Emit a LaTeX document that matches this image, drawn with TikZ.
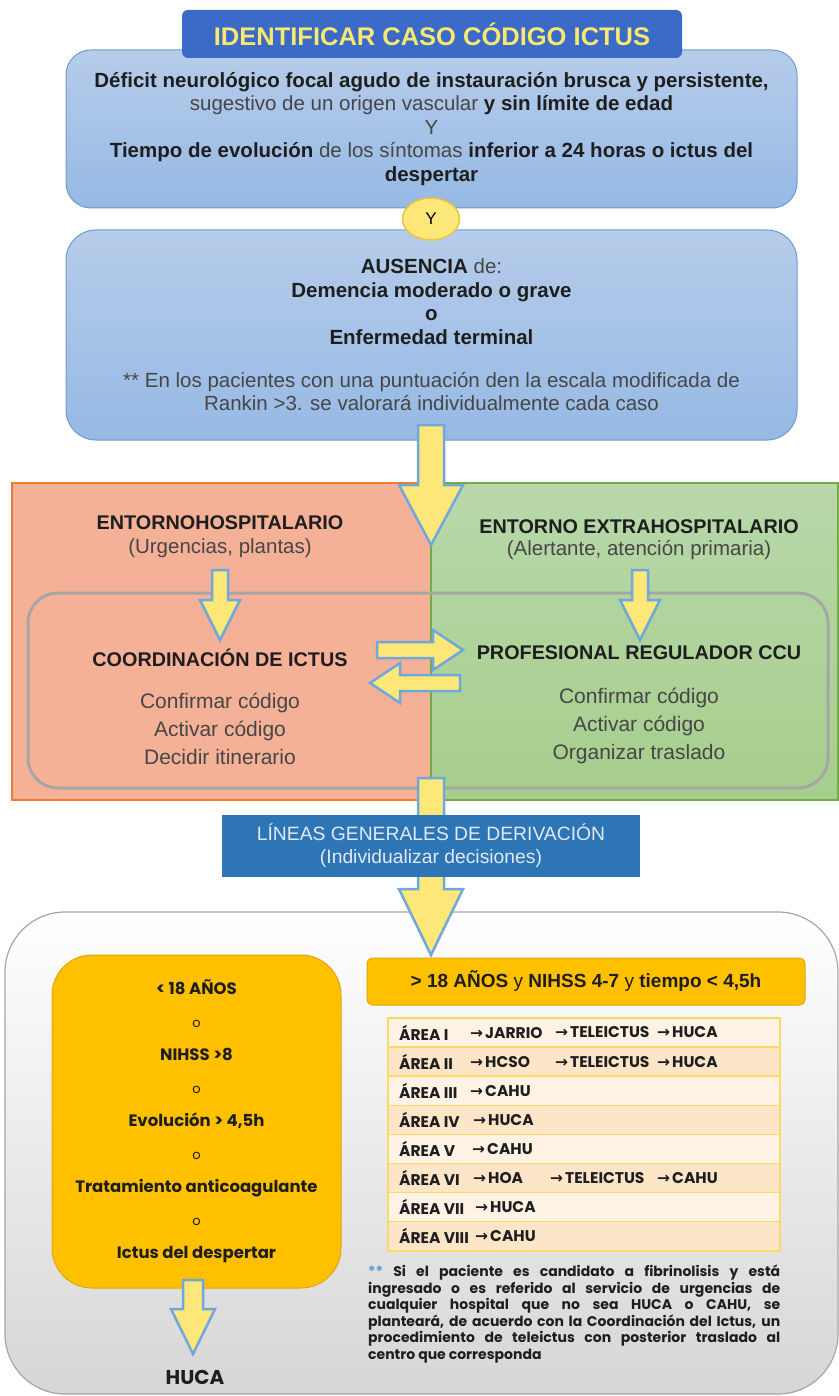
\documentclass[tikz,border=0pt]{standalone}
\usepackage{fontspec}
\setmainfont{Liberation Sans}
\newfontfamily\popfont{Poppins}
\newfontfamily\symfont{DejaVu Sans}
\usetikzlibrary{calc,shapes.geometric}

\definecolor{azulclaro}{RGB}{182,204,234}
\definecolor{azulmedio}{RGB}{150,185,228}
\definecolor{azulborde}{RGB}{112,152,208}
\definecolor{azultitulo}{RGB}{59,106,200}
\definecolor{amarillotit}{RGB}{247,232,110}
\definecolor{amarillo}{RGB}{252,231,120}
\definecolor{amarilloborde}{RGB}{232,196,64}
\definecolor{flechaborde}{RGB}{111,168,220}
\definecolor{salmon}{RGB}{244,177,151}
\definecolor{naranja}{RGB}{237,125,49}
\definecolor{verdeclaro}{RGB}{184,216,170}
\definecolor{verde}{RGB}{166,206,140}
\definecolor{verdeborde}{RGB}{112,173,71}
\definecolor{gris}{RGB}{166,166,166}
\definecolor{grisfondo}{RGB}{214,214,214}
\definecolor{azuloscuro}{RGB}{46,117,182}
\definecolor{textoclaro}{RGB}{226,233,246}
\definecolor{oro}{RGB}{255,192,0}
\definecolor{oroborde}{RGB}{226,168,0}
\definecolor{filaclara}{RGB}{255,243,230}
\definecolor{filaoscura}{RGB}{253,229,200}
\definecolor{filaborde}{RGB}{255,217,102}
\definecolor{texto}{RGB}{30,30,30}
\definecolor{textogris}{RGB}{70,70,70}
\definecolor{asterisco}{RGB}{91,155,213}

% block arrow: start, end, shaft half width, head half width, head length
\newcommand{\flechabloque}[5]{%
  \coordinate (fb-n) at ($(#2)!#5!(#1)$);
  \draw[barrow] ($(#1)!#3!90:(#2)$) -- ($(fb-n)!#3!90:(#2)$) -- ($(fb-n)!#4!90:(#2)$)
    -- (#2) -- ($(fb-n)!#4!-90:(#2)$) -- ($(fb-n)!#3!-90:(#2)$) -- ($(#1)!#3!-90:(#2)$) -- cycle;
}
\newcommand{\flecha}{{\symfont\bfseries →}\hspace{2pt}}
\newcommand{\oo}{{\mdseries\fontsize{13}{33}\selectfont o}}

\tikzset{
  caja/.style={draw=azulborde, line width=1pt, rounded corners=25pt, top color=azulclaro,
    bottom color=azulmedio, minimum width=731pt, minimum height=158pt, align=center,
    text=texto, font=\fontsize{20.5}{23.5}\selectfont},
  titulo/.style={fill=azultitulo, rounded corners=6pt, minimum width=500pt, minimum height=48pt,
    text=amarillotit, font=\fontsize{25.5}{28}\selectfont\bfseries},
  conector/.style={ellipse, fill=amarillo, draw=amarilloborde, line width=1.5pt,
    minimum width=57pt, minimum height=42pt, inner sep=0pt, font=\fontsize{17}{19}\selectfont},
  barrow/.style={fill=amarillo, draw=flechaborde, line width=2.5pt, line join=miter},
  panel/.style={line width=1.2pt, minimum height=317pt},
  marco/.style={draw=gris, line width=3pt, rounded corners=30pt, minimum width=800pt, minimum height=195pt},
  tit/.style={align=center, text=texto, font=\fontsize{19.8}{24}\selectfont\bfseries},
  item/.style={align=center, text=textogris, font=\fontsize{21}{28}\selectfont},
  orobox/.style={fill=oro, draw=oroborde, line width=1pt, text=texto},
  rowbox/.style={draw=filaborde, line width=1.5pt, minimum width=392pt, minimum height=29.1pt},
  celltxt/.style={anchor=west, inner sep=0pt, text=texto, font=\popfont\fontsize{15.5}{17}\selectfont\bfseries}
}

\begin{document}
\begin{tikzpicture}[x=1pt, y=-1pt]
\useasboundingbox (0,0) rectangle (838,1396);

% criteria
\node[caja] (criterios) at (431.5,129) {%
  {\bfseries Déficit neurológico focal agudo de instauración brusca y persistente,}\\
  {\color{textogris}sugestivo de un origen vascular} {\bfseries y sin límite de edad}\\
  {\color{textogris}Y}\\
  {\bfseries Tiempo de evolución} {\color{textogris}de los síntomas} {\bfseries inferior a 24 horas o ictus del}\\
  {\bfseries despertar}};
\node[titulo] (titulo) at (432,34) {IDENTIFICAR CASO CÓDIGO ICTUS};

\node[caja, minimum height=210pt, rounded corners=30pt] (ausencia) at (431.5,335) {%
  {\bfseries AUSENCIA} {\color{textogris}de:}\\
  {\bfseries Demencia moderado o grave}\\
  {\bfseries o}\\
  {\bfseries Enfermedad terminal}\\[19.5pt]
  {\color{textogris}** En los pacientes con una puntuación den la escala modificada de}\\
  {\color{textogris}Rankin >3. se valorará individualmente cada caso}};
\node[conector] (y) at (431,219) {Y};

% two settings
\node[panel, fill=salmon, draw=naranja, minimum width=419pt] (hosp) at (221.5,641.5) {};
\node[panel, top color=verdeclaro, bottom color=verde, draw=verdeborde, minimum width=407pt] (extra) at (634.5,641.5) {};
\node[marco] (coord) at (428,690.5) {};

\coordinate (a1) at (431,425);
\coordinate (a1f) at (431,545);
\flechabloque{a1}{a1f}{13pt}{32pt}{60pt}

\node[tit] (hosptit) at (220,537) {ENTORNOHOSPITALARIO\\{\mdseries\fontsize{20.5}{24}\selectfont\color{textogris}(Urgencias, plantas)}};
\node[tit, font=\fontsize{19.8}{22}\selectfont\bfseries] (extratit) at (639,540) {ENTORNO EXTRAHOSPITALARIO\\{\mdseries\fontsize{20.5}{22}\selectfont\color{textogris}(Alertante, atención primaria)}};
\node[tit] (ictus) at (220,658) {COORDINACIÓN DE ICTUS};
\node[tit] (ccu) at (639,653) {PROFESIONAL REGULADOR CCU};
\node[item] (ictusitems) at (220,729) {Confirmar código\\Activar código\\Decidir itinerario};
\node[item] (ccuitems) at (639,726) {Confirmar código\\Activar código\\Organizar traslado};

\coordinate (h1) at (220,570);
\coordinate (h1f) at (220,640);
\flechabloque{h1}{h1f}{8pt}{20pt}{40pt}
\coordinate (e1) at (640,570);
\coordinate (e1f) at (640,640);
\flechabloque{e1}{e1f}{8pt}{20pt}{40pt}
\coordinate (d1) at (377,650);
\coordinate (d1f) at (463,650);
\flechabloque{d1}{d1f}{8pt}{20pt}{30pt}
\coordinate (i1) at (460,683);
\coordinate (i1f) at (370,683);
\flechabloque{i1}{i1f}{8pt}{20pt}{30pt}

% derivation
\node[draw=gris, line width=1.2pt, rounded corners=60pt, top color=white, bottom color=grisfondo,
  minimum width=833pt, minimum height=482pt] (fondo) at (421.5,1153) {};
\coordinate (a2) at (431,778);
\coordinate (a2f) at (431,955);
\flechabloque{a2}{a2f}{13pt}{32pt}{66pt}
\node[fill=azuloscuro, minimum width=418pt, minimum height=62pt, align=center, text=textoclaro,
  font=\fontsize{19.3}{23}\selectfont] (lineas) at (431,846) {LÍNEAS GENERALES DE DERIVACIÓN\\(Individualizar decisiones)};

\node[orobox, rounded corners=40pt, minimum width=289pt, minimum height=333pt, align=center,
  font=\popfont\fontsize{16.5}{33}\selectfont\bfseries] (menores) at (196.5,1121.5) {%
  < 18 AÑOS\\ \oo\\ NIHSS >8\\ \oo\\ Evolución > 4,5h\\ \oo\\
  Tratamiento anticoagulante\\ \oo\\ Ictus del despertar};
\coordinate (m1) at (193,1280);
\coordinate (m1f) at (193,1354);
\flechabloque{m1}{m1f}{10pt}{22pt}{45pt}
\node[text=texto, font=\popfont\fontsize{20}{22}\selectfont\bfseries] (huca) at (195,1377) {HUCA};

\node[orobox, rounded corners=6pt, minimum width=438pt, minimum height=47pt,
  font=\fontsize{19}{22}\selectfont] (adultos) at (586,981.5) {%
  {\bfseries > 18 AÑOS} y {\bfseries NIHSS 4-7} y {\bfseries tiempo < 4,5h}};

\foreach \i/\ar/\dst/\dx in {1/I/JARRIO/470, 2/II/HCSO/470, 3/III/CAHU/470, 4/IV/HUCA/473,
    5/V/CAHU/472, 6/VI/HOA/473, 7/VII/HUCA/475, 8/VIII/CAHU/475} {
  \pgfmathsetmacro{\fy}{1018+29.1*(\i-0.5)}
  \ifodd\i \def\fc{filaclara}\else \def\fc{filaoscura}\fi
  \node[rowbox, fill=\fc] (fila\i) at (584,\fy) {};
  \node[celltxt] (area\i) at (399,\fy) {ÁREA \ar};
  \node[celltxt] (dest\i) at (\dx,\fy) {\flecha\dst};
}
\node[celltxt] (tele1) at (555,1032.5) {\flecha TELEICTUS};
\node[celltxt] (fin1) at (657,1032.5) {\flecha HUCA};
\node[celltxt] (tele2) at (555,1061.6) {\flecha TELEICTUS};
\node[celltxt] (fin2) at (657,1061.6) {\flecha HUCA};
\node[celltxt] (tele6) at (550,1178) {\flecha TELEICTUS};
\node[celltxt] (fin6) at (657,1178) {\flecha CAHU};

\node[anchor=north west, text width=412pt, align=justify, inner sep=0pt, text=texto,
  font=\popfont\fontsize{14}{16.5}\selectfont\bfseries] (nota) at (368,1265) {%
  {\color{asterisco}**} Si el paciente es candidato a fibrinolisis y está\linebreak
  ingresado o es referido al servicio de urgencias de\linebreak
  cualquier hospital que no sea HUCA o CAHU, se\linebreak
  planteará, de acuerdo con la Coordinación del Ictus, un\linebreak
  procedimiento de teleictus con posterior traslado al\linebreak
  centro que corresponda};
\end{tikzpicture}
\end{document}
